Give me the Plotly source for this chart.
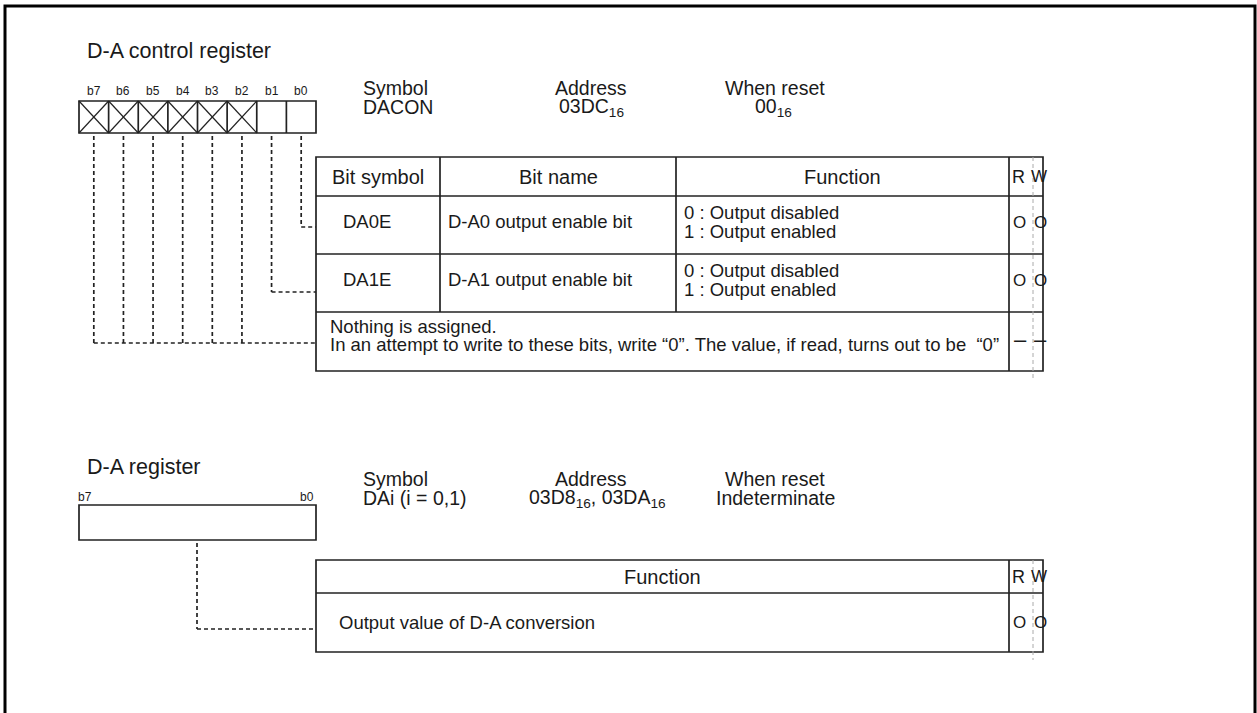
import plotly.graph_objects as go

W, H = 1257, 713
FONT = "Liberation Sans, Arial, Helvetica, sans-serif"
INK = "#222222"

# ---------------- content ----------------
title1 = "D-A control register"
title2 = "D-A register"
bit_labels = ["b7", "b6", "b5", "b4", "b3", "b2", "b1", "b0"]
reserved_bits = ["b7", "b6", "b5", "b4", "b3", "b2"]

info_heads = ["Symbol", "Address", "When reset"]
info1 = ["DACON", "03DC<sub>16</sub>", "00<sub>16</sub>"]
info2 = ["DAi (i = 0,1)", "03D8<sub>16</sub>, 03DA<sub>16</sub>", "Indeterminate"]

tbl1_heads = ["Bit symbol", "Bit name", "Function", "R", "W"]
tbl1_symbols = ["DA0E", "DA1E"]
tbl1_names = ["D-A0 output enable bit", "D-A1 output enable bit"]
tbl1_funcs = [["0 : Output disabled", "1 : Output enabled"],
              ["0 : Output disabled", "1 : Output enabled"]]
tbl1_rw = [("O", "O"), ("O", "O")]
reserved_text = ["Nothing is assigned.",
                 "In an attempt to write to these bits, write \u201c0\u201d. "
                 "The value, if read, turns out to be  \u201c0\u201d"]
reserved_rw = ("\u2013", "\u2013")

tbl2_heads = ["Function", "R", "W"]
tbl2_func = "Output value of D-A conversion"
tbl2_rw = ("O", "O")

# ---------------- layout geometry ----------------
BOX_L, BOX_R = 79, 316
BOX1_T, BOX1_B = 101, 133
cell_w = (BOX_R - BOX_L) / len(bit_labels)

T_L, C1, C2, C3, RW, T_R = 316, 440, 676, 1009, 1033, 1043
T1_T, T1_H, T1_R1, T1_R2, T1_B = 157, 196, 254, 312, 371

BOX2_T, BOX2_B = 505, 540
T2_T, T2_H, T2_B = 560, 593, 652

BODY = 18.5
HEAD = 20
INFO = 19.5
R_X, W_X = 1018, 1039

shapes = []
ann = []


def line(x0, y0, x1, y1, width=1.7, color=INK, dash=None):
    d = dict(color=color, width=width)
    if dash:
        d["dash"] = dash
    shapes.append(dict(type="line", xref="x", yref="y", x0=x0, y0=y0, x1=x1, y1=y1, line=d))


def rect(x0, y0, x1, y1, width=1.7, color=INK):
    shapes.append(dict(type="rect", xref="x", yref="y", x0=x0, y0=y0, x1=x1, y1=y1,
                       line=dict(color=color, width=width), fillcolor="rgba(0,0,0,0)"))


def text(x, y, s, size=14, anchor="left", color="#1a1a1a"):
    ann.append(dict(x=x, y=y, xref="x", yref="y", text=s, showarrow=False,
                    xanchor=anchor, yanchor="middle", align="left",
                    font=dict(family=FONT, size=size, color=color)))


LEAD = "4px,3px"

# outer frame
rect(5, 6, 1255, 730, width=3, color="#000000")

# ---------------- section 1 ----------------
text(85, 51, title1, size=21.5)
for i, b in enumerate(bit_labels):
    cx = BOX_L + cell_w * (i + 0.5)
    text(cx, 91, b, size=12, anchor="center")
rect(BOX_L, BOX1_T, BOX_R, BOX1_B)
for i in range(1, len(bit_labels)):
    x = BOX_L + cell_w * i
    line(x, BOX1_T, x, BOX1_B)
for i, b in enumerate(bit_labels):
    if b in reserved_bits:
        x0 = BOX_L + cell_w * i
        x1 = x0 + cell_w
        line(x0, BOX1_T, x1, BOX1_B, width=1.2)
        line(x0, BOX1_B, x1, BOX1_T, width=1.2)

for hx, h, anc in zip([361, 591, 775], info_heads, ["left", "center", "center"]):
    text(hx, 88, h, size=INFO, anchor=anc)
for hx, v, anc in zip([361, 591, 773], info1, ["left", "center", "center"]):
    text(hx, 107, v, size=INFO, anchor=anc)

# leader lines
cx = [BOX_L + cell_w * (i + 0.5) for i in range(len(bit_labels))]
row1_lead = 227
row2_lead = 292
row3_lead = 343
line(cx[7], BOX1_B + 3, cx[7], row1_lead, dash=LEAD)
line(cx[7], row1_lead, T_L, row1_lead, dash=LEAD)
line(cx[6], BOX1_B + 3, cx[6], row2_lead, dash=LEAD)
line(cx[6], row2_lead, T_L, row2_lead, dash=LEAD)
for i in range(6):
    line(cx[i], BOX1_B + 3, cx[i], row3_lead, dash=LEAD)
line(cx[0], row3_lead, T_L, row3_lead, dash=LEAD)

# table 1
rect(T_L, T1_T, T_R, T1_B)
for y in [T1_H, T1_R1, T1_R2]:
    line(T_L, y, T_R, y)
line(C1, T1_T, C1, T1_R2)
line(C2, T1_T, C2, T1_R2)
line(C3, T1_T, C3, T1_B)
line(RW, T1_T, RW, T1_B + 8, width=1, color="#aaaaaa", dash="4px,3px")

hy = (T1_T + T1_H) / 2
text((T_L + C1) / 2, hy, tbl1_heads[0], size=HEAD, anchor="center")
text((C1 + C2) / 2, hy, tbl1_heads[1], size=HEAD, anchor="center")
text((C2 + C3) / 2, hy, tbl1_heads[2], size=HEAD, anchor="center")
text(R_X, hy, tbl1_heads[3], size=18, anchor="center")
text(W_X, hy, tbl1_heads[4], size=17, anchor="center")

rows = [(T1_H, T1_R1), (T1_R1, T1_R2)]
for (y0, y1), s, n, f, rw in zip(rows, tbl1_symbols, tbl1_names, tbl1_funcs, tbl1_rw):
    ym = (y0 + y1) / 2
    text(341, ym - 4, s, size=BODY)
    text(446, ym - 4, n, size=BODY)
    text(682, ym - 13, f[0], size=BODY)
    text(682, ym + 6, f[1], size=BODY)
    text(1019, ym - 3, rw[0], size=17, anchor="center")
    text(1040, ym - 3, rw[1], size=17, anchor="center")
text(328, 326, reserved_text[0], size=BODY)
text(328, 344, reserved_text[1], size=BODY)
text(1020, 339, reserved_rw[0], size=22, anchor="center")
text(1040, 339, reserved_rw[1], size=22, anchor="center")

# ---------------- section 2 ----------------
text(85, 467, title2, size=21.5)
text(BOX_L + 6, 497, bit_labels[0], size=12, anchor="center")
text(BOX_R - 9, 497, bit_labels[-1], size=12, anchor="center")
rect(BOX_L, BOX2_T, BOX_R, BOX2_B)

for hx, h, anc in zip([361, 591, 775], info_heads, ["left", "center", "center"]):
    text(hx, 479, h, size=INFO, anchor=anc)
for hx, v, anc in zip([361, 597, 775], info2, ["left", "center", "center"]):
    text(hx, 498, v, size=INFO, anchor=anc)

mid2 = 197
lead_y2 = 629
line(mid2, BOX2_B + 3, mid2, lead_y2, dash=LEAD)
line(mid2, lead_y2, T_L, lead_y2, dash=LEAD)

rect(T_L, T2_T, T_R, T2_B)
line(T_L, T2_H, T_R, T2_H)
line(C3, T2_T, C3, T2_B)
line(RW, T2_T, RW, T2_B + 8, width=1, color="#aaaaaa", dash="4px,3px")
hy2 = (T2_T + T2_H) / 2
text((T_L + C3) / 2, hy2, tbl2_heads[0], size=HEAD, anchor="center")
text(R_X, hy2, tbl2_heads[1], size=18, anchor="center")
text(W_X, hy2, tbl2_heads[2], size=17, anchor="center")
ym2 = (T2_H + T2_B) / 2
text(337, ym2, tbl2_func, size=BODY)
text(1019, ym2, tbl2_rw[0], size=17, anchor="center")
text(1040, ym2, tbl2_rw[1], size=17, anchor="center")

fig = go.Figure()
fig.update_layout(
    width=W, height=H, margin=dict(l=0, r=0, t=0, b=0),
    paper_bgcolor="white", plot_bgcolor="white",
    xaxis=dict(range=[0, W], visible=False, fixedrange=True),
    yaxis=dict(range=[H, 0], visible=False, fixedrange=True),
    shapes=shapes, annotations=ann, showlegend=False,
)
fig.write_html(
    "out.html",
    config={"displayModeBar": False},
    post_script="document.body.style.margin='0';document.body.style.overflow='hidden';",
)
